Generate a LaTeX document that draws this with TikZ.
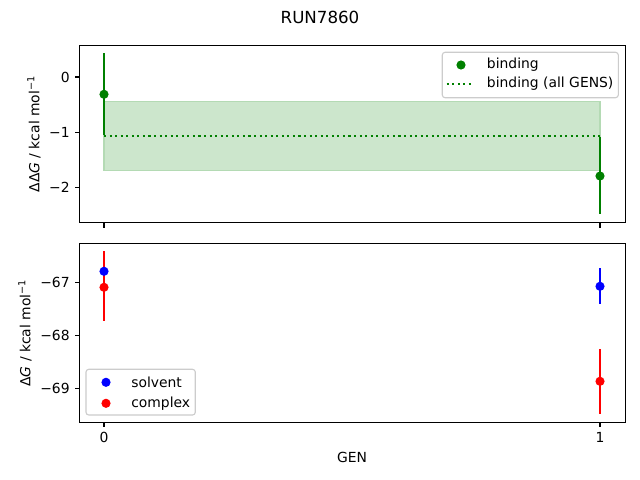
\documentclass[tikz,border=0pt]{standalone}
\usepackage{fontspec}
\setmainfont{DejaVu Sans}
\definecolor{mgreen}{RGB}{0,128,0}
\definecolor{bandfill}{RGB}{204,230,204}
\definecolor{bandedge}{RGB}{180,218,180}
\definecolor{legedge}{RGB}{204,204,204}
\begin{document}
\begin{tikzpicture}[x=0.72pt,y=-0.72pt,
  axbox/.style={draw=black,line width=0.8pt},
  tck/.style={line width=0.8pt},
  ebar/.style={line width=1.5pt},
  dot/.style={radius=3.3pt},
  ticklab/.style={font=\fontsize{10}{12}\selectfont,inner sep=0pt},
  leglab/.style={font=\fontsize{10}{12}\selectfont,inner sep=0pt,anchor=west},
  legbox/.style={draw=legedge,fill=white,rounded corners=2pt,line width=0.8pt}]
\path[use as bounding box,fill=white] (0,0) rectangle (640,480);
\node[font=\fontsize{12}{14}\selectfont] (title) at (320,17) {RUN7860};
% ---------- top axes ----------
\fill[bandfill,draw=bandedge,line width=0.8pt] (104,101.7) rectangle (600,170.3);
\draw[mgreen,line width=1.5pt,dash pattern=on 1.5pt off 2.5pt] (104,136) -- (600,136);
\draw[mgreen,ebar] (104,53.3) -- (104,135);
\draw[mgreen,ebar] (600,136.7) -- (600,214);
\fill[mgreen] (104,94.3) circle[dot];
\fill[mgreen] (600,176) circle[dot];
\draw[axbox] (79.5,45.5) rectangle (625.5,222.7);
\foreach \yy/\lab in {77/0,132.2/−1,187.2/−2}{
  \draw[tck] (79.5,\yy) -- (74.6,\yy);
  \node[ticklab,anchor=east] at (69.9,\yy) {\lab};
}
\foreach \xx in {104,600}{\draw[tck] (\xx,222.7) -- (\xx,227.6);}
\node[rotate=90,font=\fontsize{10}{12}\selectfont] (ylabA) at (34,134) {ΔΔ\textit{G} / kcal mol\textsuperscript{−1}};
% legend top
\draw[legbox] (442.3,52.3) rectangle (618.3,97.7);
\fill[mgreen] (461,65) circle[dot];
\node[leglab] (lbA) at (486.7,65) {binding};
\draw[mgreen,line width=1.5pt,dash pattern=on 1.5pt off 2.5pt] (446.7,83.7) -- (474,83.7);
\node[leglab] (lbB) at (486.7,83.7) {binding (all GENS)};
% ---------- bottom axes ----------
\draw[red,ebar] (104,251) -- (104,321.3);
\draw[blue,ebar] (600,268) -- (600,303.7);
\draw[red,ebar] (600,349) -- (600,413.7);
\fill[blue] (104,271.3) circle[dot];
\fill[red] (104,287.3) circle[dot];
\fill[blue] (600,286.3) circle[dot];
\fill[red] (600,381.3) circle[dot];
\draw[axbox] (79.5,243.3) rectangle (625.5,422.3);
\foreach \yy/\lab in {282.3/−67,335.5/−68,388.3/−69}{
  \draw[tck] (79.5,\yy) -- (74.6,\yy);
  \node[ticklab,anchor=east] at (69.9,\yy) {\lab};
}
\foreach \xx/\lab in {104/0,600/1}{
  \draw[tck] (\xx,422.3) -- (\xx,427.2);
  \node[ticklab,anchor=north] at (\xx,432) {\lab};
}
\node[rotate=90,font=\fontsize{10}{12}\selectfont] (ylabB) at (25,333) {Δ\textit{G} / kcal mol\textsuperscript{−1}};
\node[font=\fontsize{10}{12}\selectfont] (xlab) at (352,457) {GEN};
% legend bottom
\draw[legbox] (86,369.3) rectangle (195.3,415);
\fill[blue] (106,382.3) circle[dot];
\node[leglab] (lbC) at (131,382.3) {solvent};
\fill[red] (106,403.3) circle[dot];
\node[leglab] (lbD) at (131,403.3) {complex};
\end{tikzpicture}
\end{document}
